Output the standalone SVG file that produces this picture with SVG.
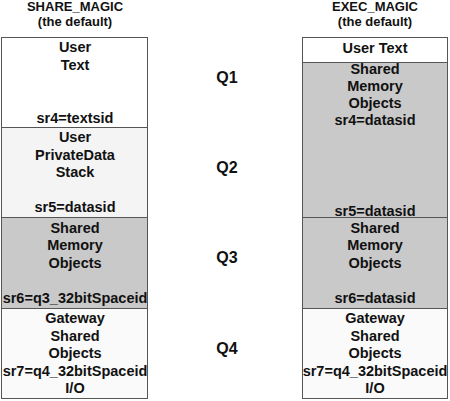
<svg xmlns="http://www.w3.org/2000/svg" width="450" height="401" viewBox="0 0 450 401">
<style>
text{font-family:"Liberation Sans",Arial,sans-serif;font-weight:bold;fill:#111;text-anchor:middle}
.h{font-size:13px}
.t{font-size:14.5px}
.q{font-size:16px}
.box{stroke:#555;stroke-width:1}
.white{fill:#ffffff}
.light{fill:#f4f4f4}
.lighter{fill:#fafafa}
.gray{fill:#c9c9c9}
</style>
<rect width="450" height="401" fill="#fff"/>
<g id="share-header">
<text class="h" x="75" y="11">SHARE_MAGIC</text>
<text class="h" x="75" y="26">(the default)</text>
</g>
<g id="exec-header">
<text class="h" x="375" y="11">EXEC_MAGIC</text>
<text class="h" x="375" y="26">(the default)</text>
</g>
<g id="share-q1">
<rect class="box white" x="1.5" y="37.5" width="146" height="90"/>
<text class="t" x="75" y="52">User</text>
<text class="t" x="75" y="70">Text</text>
<text class="t" x="75" y="123">sr4=textsid</text>
</g>
<g id="share-q2">
<rect class="box light" x="1.5" y="127.5" width="146" height="90"/>
<text class="t" x="75" y="142">User</text>
<text class="t" x="75" y="160">PrivateData</text>
<text class="t" x="75" y="177">Stack</text>
<text class="t" x="75" y="212">sr5=datasid</text>
</g>
<g id="share-q3">
<rect class="box gray" x="1.5" y="217.5" width="146" height="91"/>
<text class="t" x="75" y="233">Shared</text>
<text class="t" x="75" y="250">Memory</text>
<text class="t" x="75" y="268">Objects</text>
<text class="t" x="75" y="303">sr6=q3_32bitSpaceid</text>
</g>
<g id="share-q4">
<rect class="box lighter" x="1.5" y="308.5" width="146" height="90"/>
<text class="t" x="75" y="323">Gateway</text>
<text class="t" x="75" y="341">Shared</text>
<text class="t" x="75" y="358">Objects</text>
<text class="t" x="75" y="376">sr7=q4_32bitSpaceid</text>
<text class="t" x="75" y="393">I/O</text>
</g>
<g id="exec-usertext">
<rect class="box white" x="302.5" y="37.5" width="145" height="25"/>
<text class="t" x="375" y="53">User Text</text>
</g>
<g id="exec-q12">
<rect class="box gray" x="302.5" y="62.5" width="145" height="155"/>
<text class="t" x="375" y="74">Shared</text>
<text class="t" x="375" y="91">Memory</text>
<text class="t" x="375" y="108">Objects</text>
<text class="t" x="375" y="125">sr4=datasid</text>
<text class="t" x="375" y="216">sr5=datasid</text>
</g>
<g id="exec-q3">
<rect class="box gray" x="302.5" y="217.5" width="145" height="91"/>
<text class="t" x="375" y="233">Shared</text>
<text class="t" x="375" y="250">Memory</text>
<text class="t" x="375" y="268">Objects</text>
<text class="t" x="375" y="303">sr6=datasid</text>
</g>
<g id="exec-q4">
<rect class="box lighter" x="302.5" y="308.5" width="145" height="90"/>
<text class="t" x="375" y="323">Gateway</text>
<text class="t" x="375" y="341">Shared</text>
<text class="t" x="375" y="358">Objects</text>
<text class="t" x="375" y="376">sr7=q4_32bitSpaceid</text>
<text class="t" x="375" y="393">I/O</text>
</g>
<g id="quadrant-labels">
<text class="q" x="227" y="83">Q1</text>
<text class="q" x="227" y="173">Q2</text>
<text class="q" x="227" y="263">Q3</text>
<text class="q" x="227" y="354">Q4</text>
</g>
<g id="connectors"></g>
</svg>
